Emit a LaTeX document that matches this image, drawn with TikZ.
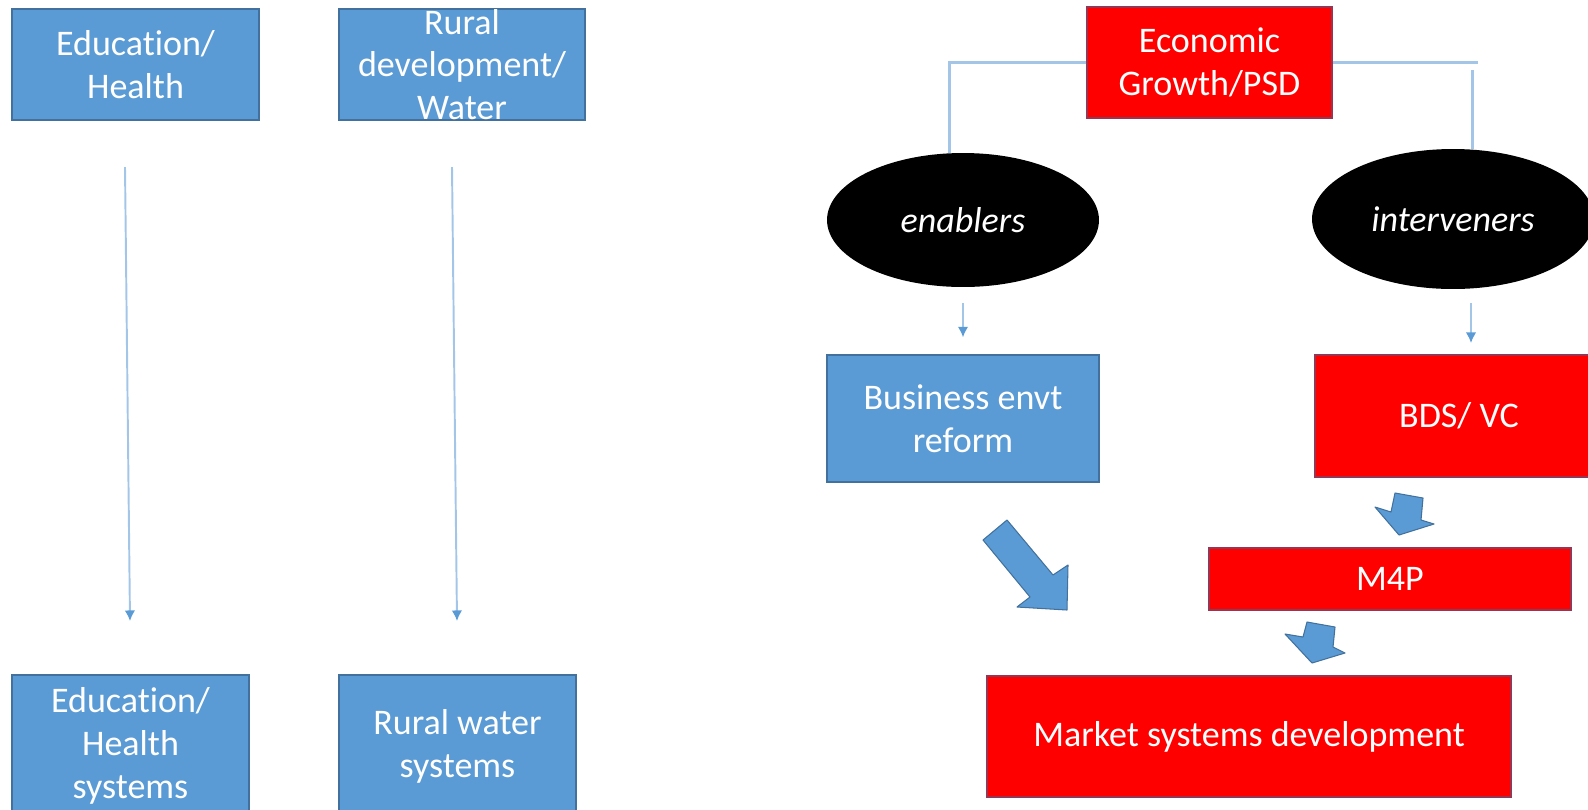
\documentclass[tikz,border=0pt]{standalone}
\usepackage{fontspec}
\setmainfont{Carlito}[Ligatures={NoCommon}]
\usetikzlibrary{calc,positioning,shapes.geometric,arrows.meta}
\definecolor{boxblue}{RGB}{91,155,213}
\definecolor{edgeblue}{RGB}{65,113,156}
\definecolor{linkblue}{RGB}{163,198,232}
\definecolor{edgered}{RGB}{149,55,83}
\tikzset{
  boxtext/.style={inner sep=0pt,align=center,text=white,font=\fontsize{20.5}{24.4}\selectfont},
  bluebox/.style={boxtext,draw=edgeblue,fill=boxblue,line width=0.8pt},
  redbox/.style={bluebox,draw=edgered,fill=red},
  oval/.style={ellipse,fill=black,inner sep=0pt,text=white,font=\fontsize{20.5}{24.4}\selectfont\itshape},
  link/.style={draw=linkblue,line width=1.7pt},
  thinarrow/.style={draw=linkblue,line width=1.1pt,-{Latex[length=6pt,width=6pt,color=boxblue]}},
  fatarrow/.style={fill=boxblue,draw=edgeblue,line width=0.6pt,line join=round}
}
\begin{document}
\begin{tikzpicture}[x=0.02cm,y=-0.02cm]
    \useasboundingbox (0,0) rectangle (1588,809);
    % left column
    \node[bluebox,minimum width=4.94cm,minimum height=2.22cm] (eduTop) at (135.5,64.5) {Education/\\Health};
    \node[bluebox,minimum width=4.92cm,minimum height=2.22cm] (ruralTop) at (462,64.5) {};
    \node[boxtext] (ruralTopText) at (ruralTop) {Rural\\development/\\Water};
    \node[bluebox,minimum width=4.74cm,minimum height=2.84cm] (eduBot) at (130.5,746) {Education/\\Health\\systems};
    \node[bluebox,minimum width=4.74cm,minimum height=2.84cm] (ruralBot) at (457.5,746) {Rural water\\systems};
    \coordinate (eduS) at (125,167);
    \coordinate (eduE) at (130,621);
    \coordinate (ruralS) at (452,167);
    \coordinate (ruralE) at (457,621);
    \draw[thinarrow] (eduS) -- (eduE);
    \draw[thinarrow] (ruralS) -- (ruralE);

    % right column
    \node[redbox,minimum width=4.9cm,minimum height=2.22cm] (econ) at (1209.5,62.5) {Economic\\Growth/PSD};
    \node[oval,minimum width=5.44cm,minimum height=2.68cm] (enablers) at (963,220) {enablers};
    \node[oval,minimum width=5.64cm,minimum height=2.8cm] (interveners) at (1453,219) {interveners};
    \node[bluebox,minimum width=5.44cm,minimum height=2.54cm] (busi) at (963,418.5) {Business envt\\reform};
    \node[redbox,minimum width=5.76cm,minimum height=2.44cm] (bds) at (1459,416) {BDS/ VC};
    \node[redbox,minimum width=7.24cm,minimum height=1.24cm] (mfp) at (1390,579) {M4P};
    \node[redbox,minimum width=10.48cm,minimum height=2.42cm] (market) at (1249,736.5) {Market systems development};

    \draw[link] (econ.west) -| ($(enablers.north)+(-14,0)$);
    \draw[link] (econ.east) -- ++(145,0);
    \coordinate (rdrop) at (1472,70);
    \draw[link] (rdrop) -- (rdrop |- interveners.north);

    \draw[thinarrow] ($(enablers.south)+(0,16)$) -- ($(busi.north)+(0,-17)$);
    \coordinate (intS) at (1471,303);
    \coordinate (intE) at (1471,343);
    \draw[thinarrow] (intS) -- (intE);

    % block arrows
    \draw[fatarrow] (1007,520) -- (1053,575) -- (1068,565) -- (1067,610) -- (1017,607) -- (1030,597) -- (983,540) -- cycle;
    \draw[fatarrow] (1395,493) -- (1423,498) -- (1421,520) -- (1434,524) -- (1399,535) -- (1375,507) -- (1391,512) -- cycle;
    \draw[fatarrow] (1307,622) -- (1335,627) -- (1333,647) -- (1345,653) -- (1312,663) -- (1285,634) -- (1303,637) -- cycle;
\end{tikzpicture}
\end{document}
